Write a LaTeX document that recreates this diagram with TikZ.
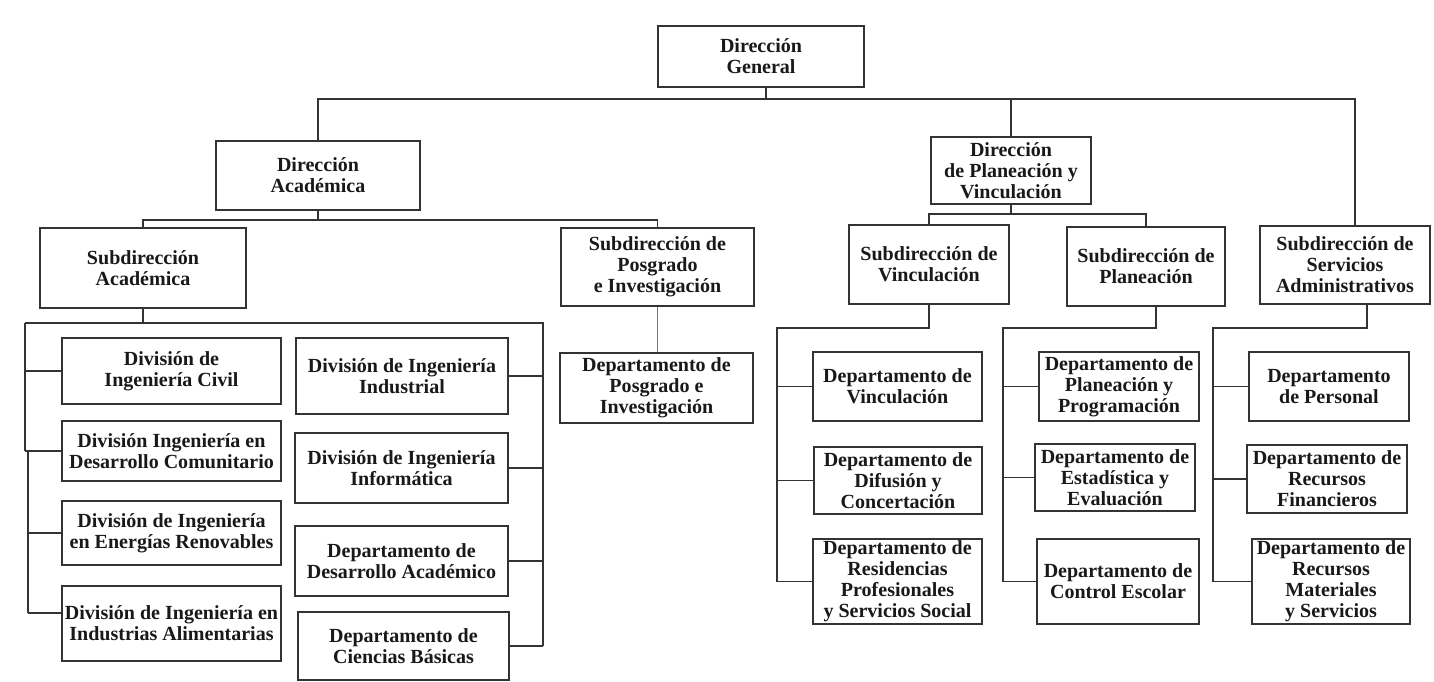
\documentclass[tikz,border=0pt]{standalone}
\usepackage{fontspec}
\setmainfont{Liberation Serif}
\tikzset{
  box/.style={draw=black!80, line width=0.8pt, fill=white, align=center, inner sep=0pt,
    font=\fontsize{11.4}{12}\selectfont\bfseries, text=black!90},
  link/.style={draw=black!80, line width=0.8pt},
}
\newcommand{\orgbox}[6]{\node[box, minimum width={(#4-#2)*0.02cm}, minimum height={(#5-#3)*0.02cm}] (#1) at ({(#2+#4)/2},{(#3+#5)/2}) {#6};}
\begin{document}
\begin{tikzpicture}[x=0.02cm, y=-0.02cm]
\fill[white] (0,0) rectangle (1434,681);
\useasboundingbox (0,0) rectangle (1434,681);
% top levels
\orgbox{dg}{658}{26}{864}{87}{Dirección\\General}
\orgbox{da}{216}{141}{420}{210}{Dirección\\Académica}
\orgbox{dpv}{931}{137}{1091}{204}{Dirección\\de Planeación y\\Vinculación}
\orgbox{sa}{40}{228}{246}{308}{Subdirección\\Académica}
\orgbox{spi}{561}{228}{754}{306}{Subdirección de\\Posgrado\\e Investigación}
\orgbox{sv}{849}{225}{1009}{304}{Subdirección de\\Vinculación}
\orgbox{sp}{1067}{227}{1225}{306}{Subdirección de\\Planeación}
\orgbox{ssa}{1260}{226}{1430}{304}{Subdirección de\\Servicios\\Administrativos}
% academic divisions
\orgbox{d1}{62}{338}{281}{404}{División de\\Ingeniería Civil}
\orgbox{d2}{62}{421}{281}{481}{División Ingeniería en\\Desarrollo Comunitario}
\orgbox{d3}{62}{501}{281}{565}{División de Ingeniería\\en Energías Renovables}
\orgbox{d4}{62}{586}{281}{661}{División de Ingeniería en\\Industrias Alimentarias}
\orgbox{d5}{296}{338}{508}{414}{División de Ingeniería\\Industrial}
\orgbox{d6}{295}{433}{508}{503}{División de Ingeniería\\Informática}
\orgbox{d7}{295}{526}{508}{596}{Departamento de\\Desarrollo Académico}
\orgbox{d8}{298}{612}{509}{680}{Departamento de\\Ciencias Básicas}
\orgbox{dpi}{560}{353}{753}{423}{Departamento de\\Posgrado e\\Investigación}
% vinculacion
\orgbox{v1}{813}{352}{982}{421}{Departamento de\\Vinculación}
\orgbox{v2}{814}{447}{982}{514}{Departamento de\\Difusión y\\Concertación}
\orgbox{v3}{813}{539}{982}{624}{Departamento de\\Residencias\\Profesionales\\y Servicios Social}
% planeacion
\orgbox{p1}{1039}{352}{1199}{421}{Departamento de\\Planeación y\\Programación}
\orgbox{p2}{1035}{444}{1195}{511}{Departamento de\\Estadística y\\Evaluación}
\orgbox{p3}{1037}{539}{1199}{624}{Departamento de\\Control Escolar}
% servicios
\orgbox{s1}{1249}{352}{1409}{421}{Departamento\\de Personal}
\orgbox{s2}{1247}{445}{1407}{513}{Departamento de\\Recursos\\Financieros}
\orgbox{s3}{1252}{539}{1410}{624}{Departamento de\\Recursos\\Materiales\\y Servicios}
% connectors: top
\coordinate (j0) at (766,99);
\coordinate (cS) at (1355,99);
\draw[link] (dg.south -| j0) -- (j0);
\draw[link] (da.north) |- (cS) -- (cS |- ssa.north);
\draw[link] (dpv.north) -- (dpv.north |- j0);
% direccion academica
\coordinate (j1) at (318,220);
\draw[link] (da.south) -- (da.south |- j1);
\draw[link] (sa.north) |- (j1) -| (spi.north);
% subdireccion academica
\coordinate (bL) at (25,323);
\coordinate (bR) at (543,323);
\coordinate (bL2) at (28,451);
\coordinate (c4) at (28,613);
\draw[link] (sa.south) -- (sa.south |- bL);
\draw[link] (bL) -- (bR) -- (bR |- d8.east);
\draw[link] (bL) -- (bL |- d2.west);
\draw[link] (bL2) -- (c4);
\draw[draw=black!80, line width=1.6pt] (d1.west) -- (d1.west -| bL);
\draw[link] (d2.west) -- (d2.west -| bL);
\draw[link] (d3.west) -- (d3.west -| bL2);
\draw[link] (c4) -- (c4 -| d4.west);
\draw[link] (d5.east) -- (d5.east -| bR);
\draw[link] (d6.east) -- (d6.east -| bR);
\draw[link] (d7.east) -- (d7.east -| bR);
\draw[link] (d8.east) -- (d8.east -| bR);
% posgrado
\draw[draw=black!55, line width=0.8pt] (spi.south) -- (spi.south |- dpi.north);
% direccion planeacion
\coordinate (j2) at (1011,214);
\draw[link] (dpv.south) -- (dpv.south |- j2);
\draw[link] (sv.north) |- (j2) -| (sp.north);
% vinculacion
\coordinate (vb) at (777,328);
\draw[link] (sv.south) |- (vb) -- (vb |- v3.west);
\draw[link] (v1.west) -- (v1.west -| vb);
\draw[link] (v2.west) -- (v2.west -| vb);
\draw[link] (v3.west) -- (v3.west -| vb);
% planeacion
\coordinate (pt) at (1156,328);
\coordinate (pb) at (1003,328);
\draw[link] (pt |- sp.south) -- (pt) -- (pb) -- (pb |- p3.west);
\draw[link] (p1.west) -- (p1.west -| pb);
\draw[link] (p2.west) -- (p2.west -| pb);
\draw[link] (p3.west) -- (p3.west -| pb);
% servicios
\coordinate (st) at (1367,328);
\coordinate (sb) at (1213,328);
\draw[link] (st |- ssa.south) -- (st) -- (sb) -- (sb |- s3.west);
\draw[link] (s1.west) -- (s1.west -| sb);
\draw[link] (s2.west) -- (s2.west -| sb);
\draw[link] (s3.west) -- (s3.west -| sb);
\end{tikzpicture}
\end{document}
